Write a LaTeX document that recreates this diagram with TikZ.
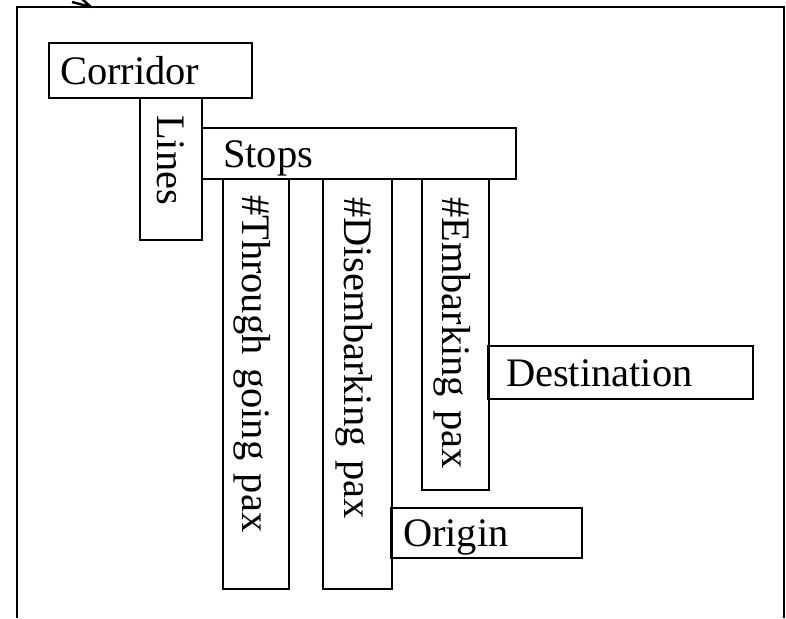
\documentclass[tikz,border=0pt]{standalone}
\usepackage{fontspec}
\setmainfont{Liberation Serif}
\begin{document}
\begin{tikzpicture}[x=0.5pt,y=-0.5pt,
  box/.style={draw=black, line width=0.8pt, rectangle, inner ysep=0pt, align=left,
    font=\fontsize{20.25}{24}\selectfont, text height=13.5pt, text depth=0pt},
  vbox/.style={box, rotate=-90},
  frameline/.style={line width=1.2pt, draw=black}]
\useasboundingbox (0,0) rectangle (786,618);
% outer frame (open at the bottom)
\draw[frameline] (17,618) -- (17,7) -- (784,7) -- (784,618);
% arrow fragment at the top
\coordinate (tip) at (91,7);
\draw[line width=1.2pt] (72,2) -- (tip) (82,-1) -- (tip);
% horizontal boxes
\node[box, minimum width=101.5pt, minimum height=27.5pt, inner xsep=5.5pt, text width=90.5pt] (corridor) at (150.5,70.5) {Corridor};
\node[box, minimum width=157pt, minimum height=25.5pt, inner xsep=10.5pt, text width=136pt] (stops) at (359,153.5) {Stops};
\node[box, minimum width=132.5pt, minimum height=26.5pt, inner xsep=9pt, text width=114.5pt] (destination) at (620.5,372.5) {Destination};
\node[box, minimum width=95.5pt, minimum height=25pt, inner xsep=6pt, text width=83.5pt] (origin) at (486.5,533) {Origin};
% vertical boxes
\node[vbox, minimum width=71pt, minimum height=31pt, inner xsep=8.5pt, text width=54pt] (lines) at (171,169) {Lines};
\node[vbox, minimum width=205pt, minimum height=33pt, inner xsep=8pt, text width=189pt] (through) at (256,384) {\#Through going pax};
\node[vbox, minimum width=205pt, minimum height=34.5pt, inner xsep=9pt, text width=187pt] (disemb) at (357.5,384) {\#Disembarking pax};
\node[vbox, minimum width=155.5pt, minimum height=33.5pt, inner xsep=9pt, text width=137.5pt] (emb) at (455.5,334.5) {\#Embarking pax};
\end{tikzpicture}
\end{document}
